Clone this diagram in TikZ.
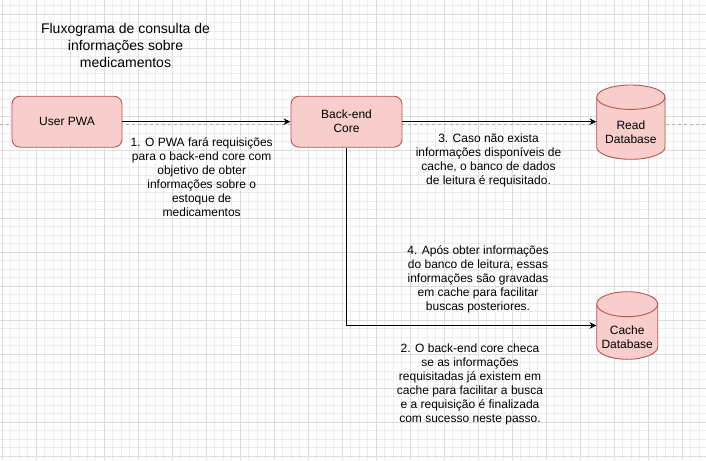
\documentclass[tikz,border=0pt]{standalone}
\usepackage{fontspec}
\setmainfont{Liberation Sans}
\usetikzlibrary{arrows.meta}
\definecolor{boxfill}{HTML}{F8CECC}
\definecolor{boxline}{HTML}{B85450}
\definecolor{gridminor}{HTML}{EDEDED}
\definecolor{gridmajor}{HTML}{DCDCDC}
\definecolor{pagebreak}{HTML}{B0B0B0}
\tikzset{
  procbox/.style={draw=boxline, fill=boxfill, line width=0.9pt, rounded corners=8pt, align=center, font=\fontsize{12}{14}\selectfont, inner sep=0pt},
  dbframe/.style={draw=none, fill=none, inner sep=0pt},
  dbshape/.style={draw=boxline, fill=boxfill, line width=0.9pt},
  dbtext/.style={align=center, font=\fontsize{12}{14}\selectfont, inner sep=0pt},
  note/.style={align=center, font=\fontsize{12}{14}\selectfont, inner sep=0pt},
  titletext/.style={align=center, font=\fontsize{14}{17}\selectfont, inner sep=0pt},
  flow/.style={draw=black, line width=0.9pt, -{Stealth[length=7pt,width=6.5pt]}},
}
\begin{document}
\begin{tikzpicture}[x=1pt,y=-1pt]
\useasboundingbox (0,0) rectangle (706,460);
\fill[white] (0,0) rectangle (706,460);
% grid
\foreach \i in {0,...,83} \draw[gridminor, line width=0.7pt] ({2+8.5*\i},0) -- ({2+8.5*\i},460);
\foreach \i in {0,...,53} \draw[gridminor, line width=0.7pt] (0,{5.5+8.5*\i}) -- (706,{5.5+8.5*\i});
\foreach \i in {0,...,20} \draw[gridmajor, line width=0.8pt] ({2+34*\i},0) -- ({2+34*\i},460);
\foreach \i in {0,...,13} \draw[gridmajor, line width=0.8pt] (0,{14+34*\i}) -- (706,{14+34*\i});
% page break line
\draw[pagebreak, line width=0.7pt, dash pattern=on 3pt off 3pt] (0,124) -- (706,124);

% title
\node[titletext] (title) at (125.5,45.5) {Fluxograma de consulta de\\informações sobre\\medicamentos};

% process boxes
\node[procbox, minimum width=110pt, minimum height=51pt] (pwa) at (67,121.7) {User PWA};
\node[procbox, minimum width=111pt, minimum height=51pt] (core) at (346.5,121.7) {Back-end\\Core};

% read database cylinder
\node[dbframe, minimum width=68.3pt, minimum height=74.3pt] (readdb) at (630.85,122.15) {};
\path[dbshape] (596.7,97.2) -- (596.7,147.1) arc[start angle=180,end angle=360,x radius=34.15pt,y radius=12.2pt] -- (665,97.2) arc[start angle=0,end angle=180,x radius=34.15pt,y radius=12.2pt] -- cycle;
\draw[boxline, line width=0.9pt] (596.7,97.2) arc[start angle=180,end angle=360,x radius=34.15pt,y radius=12.2pt];
\node[dbtext] (readtxt) at (630.85,132.5) {Read\\Database};

% cache database cylinder
\node[dbframe, minimum width=61pt, minimum height=67.6pt] (cachedb) at (627.2,325.5) {};
\path[dbshape] (596.7,304.2) -- (596.7,346.8) arc[start angle=180,end angle=360,x radius=30.5pt,y radius=12.5pt] -- (657.7,304.2) arc[start angle=0,end angle=180,x radius=30.5pt,y radius=12.5pt] -- cycle;
\draw[boxline, line width=0.9pt] (596.7,304.2) arc[start angle=180,end angle=360,x radius=30.5pt,y radius=12.5pt];
\node[dbtext] (cachetxt) at (627.2,337.5) {Cache\\Database};

% connectors
\draw[flow] (pwa.east) -- (core.west);
\draw[flow] (core.east) -- (core.east -| readdb.west);
\draw[flow] (core.south) |- (cachedb.west);

% notes
\node[note] (n1) at (201.7,176.7) {1. O PWA fará requisições\\para o back-end core com\\objetivo de obter\\informações sobre o\\estoque de\\medicamentos};
\node[note] (n3) at (488.5,160) {3. Caso não exista\\informações disponíveis de\\cache, o banco de dados\\de leitura é requisitado.};
\node[note] (n4) at (478,279.7) {4. Após obter informações\\do banco de leitura, essas\\informações são gravadas\\em cache para facilitar\\buscas posteriores.};
\node[note] (n2) at (470,384) {2. O back-end core checa\\se as informações\\requisitadas já existem em\\cache para facilitar a busca\\e a requisição é finalizada\\com sucesso neste passo.};
\end{tikzpicture}
\end{document}
